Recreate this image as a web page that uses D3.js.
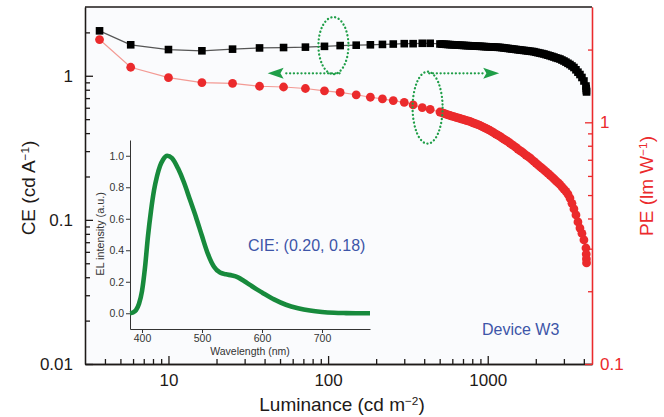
<!DOCTYPE html>
<html><head><meta charset="utf-8">
<script src="https://cdn.jsdelivr.net/npm/d3@7"></script>
<style>
body{margin:0;background:#fff}
svg{display:block}
text{font-family:"Liberation Sans",Arial,Helvetica,sans-serif}
</style>
</head><body>
<svg id="chart" width="664" height="417"></svg>
<script>
// ---------- data ----------
const luminance = [3.7, 5.8, 10, 16.2, 25.2, 37.2, 52.6, 72.1, 94.9, 119, 150, 184, 219, 256, 300, 341, 389, 436,
  502, 517, 532, 548, 564, 580, 597, 615, 633, 651,
  670, 690, 710, 731, 752, 774, 797, 820, 844, 869,
  894, 920, 947, 975, 1003, 1033, 1063, 1094, 1126, 1159,
  1193, 1228, 1264, 1301, 1339, 1378, 1418, 1460, 1502, 1546,
  1592, 1638, 1686, 1736, 1786, 1839, 1892, 1948, 2005, 2064,
  2124, 2186, 2250, 2316, 2384, 2454, 2525, 2599, 2675, 2754,
  2834, 2917, 3003, 3090, 3181, 3274, 3370, 3468, 3570, 3674,
  3782, 3892, 4006, 4124, 4140, 4150, 4160];
const ceValues = [2.05, 1.64, 1.52, 1.49, 1.53, 1.56, 1.57, 1.58, 1.60, 1.62, 1.63, 1.64, 1.65, 1.66, 1.67, 1.67, 1.68, 1.68,
  1.662, 1.658, 1.655, 1.652, 1.648, 1.645, 1.642, 1.639, 1.636, 1.632,
  1.629, 1.626, 1.623, 1.620, 1.618, 1.615, 1.612, 1.609, 1.606, 1.603,
  1.601, 1.598, 1.595, 1.592, 1.589, 1.587, 1.584, 1.581, 1.578, 1.576,
  1.573, 1.567, 1.560, 1.554, 1.548, 1.541, 1.535, 1.529, 1.523, 1.516,
  1.510, 1.504, 1.499, 1.493, 1.487, 1.480, 1.475, 1.469, 1.456, 1.446,
  1.436, 1.426, 1.416, 1.402, 1.389, 1.376, 1.362, 1.349, 1.332, 1.320,
  1.307, 1.286, 1.266, 1.244, 1.220, 1.197, 1.169, 1.141, 1.100, 1.059,
  1.020, 0.973, 0.920, 0.849, 0.816, 0.790, 0.772];
const peValues = [2.2, 1.69, 1.53, 1.46, 1.45, 1.41, 1.40, 1.38, 1.35, 1.33, 1.30, 1.27, 1.25, 1.23, 1.21, 1.18, 1.15, 1.13,
  1.103, 1.096, 1.089, 1.081, 1.074, 1.067, 1.061, 1.055, 1.049, 1.043,
  1.037, 1.031, 1.025, 1.019, 1.014, 1.008, 1.000, 0.993, 0.985, 0.978,
  0.970, 0.961, 0.952, 0.943, 0.934, 0.925, 0.915, 0.904, 0.894, 0.884,
  0.874, 0.863, 0.852, 0.842, 0.831, 0.821, 0.809, 0.798, 0.787, 0.775,
  0.764, 0.754, 0.743, 0.732, 0.722, 0.712, 0.700, 0.689, 0.678, 0.667,
  0.656, 0.646, 0.636, 0.625, 0.615, 0.605, 0.594, 0.584, 0.573, 0.563,
  0.553, 0.541, 0.529, 0.518, 0.504, 0.486, 0.462, 0.438, 0.414, 0.387,
  0.365, 0.347, 0.326, 0.302, 0.285, 0.272, 0.262];

const wavelength = [380, 385, 390, 395, 400, 405, 410, 415, 420, 425, 430, 435, 442, 450, 460, 470, 480, 490, 500, 510, 520,
  530, 540, 550, 560, 570, 580, 590, 600, 620, 640, 660, 680, 700, 720, 740, 760, 780];
const elIntensity = [0.0, 0.005, 0.02, 0.06, 0.14, 0.29, 0.49, 0.65, 0.78, 0.87, 0.935, 0.975, 1.0, 0.985, 0.92, 0.83, 0.72, 0.61, 0.49, 0.375, 0.295,
  0.258, 0.247, 0.24, 0.228, 0.205, 0.18, 0.155, 0.132, 0.088, 0.054, 0.032, 0.017, 0.008, 0.003, 0.001, 0.0, 0.0];

const xMajorTicks = [10, 100, 1000];
const ceMajorTicks = [0.01, 0.1, 1];
const peMajorTicks = [0.1, 1];
const insetXTicks = [400, 500, 600, 700];
const insetYTicks = [0, 0.2, 0.4, 0.6, 0.8, 1.0];

// annotation anchors in data units
const ellipseCE = {lum: 108, val: 1.62};
const ellipsePE = {lum: 420, val: 1.15};
const arrowCE = {from: 118, to: 41.8, val: 1.04};
const arrowPE = {from: 430, to: 1180, val: 1.04};

// ---------- layout ----------
const L = 85, R = 592, T = 7, B = 364;
const svg = d3.select("#chart");
const black = "#1e1a18", red = "#eb2a2c", blue = "#3d55a8", green = "#1f9e48";

const x = d3.scaleLog().domain([3, 4500]).range([L, R]);
const yCE = d3.scaleLog().domain([0.01, 3]).range([B, T]);
const yPE = d3.scaleLog().domain([0.1, 3]).range([B, T]);

svg.append("rect").attr("x", L).attr("y", T).attr("width", R - L).attr("height", B - T).attr("fill", "#fafbfd");

const isPow10 = v => Math.abs(Math.log10(v) - Math.round(Math.log10(v))) < 1e-9;

function styleAxis(g, color, fs) {
  g.selectAll("path,line").attr("stroke", color).attr("stroke-width", 1.3);
  g.selectAll("text").attr("fill", color).attr("font-size", fs).attr("font-family", '"Liberation Sans",Arial,sans-serif');
}

// bottom axis
const xMinor = x.ticks().filter(v => !isPow10(v) && v > 3.01);
svg.append("g").attr("transform", `translate(0,${B})`)
  .call(d3.axisBottom(x).tickValues(xMinor).tickSize(-5).tickSizeOuter(0).tickFormat(""))
  .call(g => styleAxis(g, black, 17));
svg.append("g").attr("transform", `translate(0,${B})`)
  .call(d3.axisBottom(x).tickValues(xMajorTicks).tickSize(-8).tickSizeOuter(0).tickPadding(10).tickFormat(d3.format("d")))
  .call(g => styleAxis(g, black, 17));

// left axis
const ceMinor = yCE.ticks().filter(v => !isPow10(v) && v < 2.99);
svg.append("g").attr("transform", `translate(${L},0)`)
  .call(d3.axisLeft(yCE).tickValues(ceMinor).tickSize(-5).tickSizeOuter(0).tickFormat(""))
  .call(g => styleAxis(g, black, 17));
svg.append("g").attr("transform", `translate(${L},0)`)
  .call(d3.axisLeft(yCE).tickValues(ceMajorTicks).tickSize(-8).tickSizeOuter(0).tickPadding(12).tickFormat(d => d >= 1 ? "1" : String(d)))
  .call(g => styleAxis(g, black, 17));

// top border
svg.append("line").attr("x1", L).attr("x2", R).attr("y1", T).attr("y2", T).attr("stroke", black).attr("stroke-width", 1.3);

// right axis (red)
const peMinor = yPE.ticks().filter(v => !isPow10(v) && v < 2.99);
svg.append("g").attr("transform", `translate(${R},0)`)
  .call(d3.axisRight(yPE).tickValues(peMinor).tickSize(-4).tickSizeOuter(0).tickFormat(""))
  .call(g => styleAxis(g, red, 17));
svg.append("g").attr("transform", `translate(${R},0)`)
  .call(d3.axisRight(yPE).tickValues(peMajorTicks).tickSize(-7).tickSizeOuter(0).tickPadding(8).tickFormat(d => d >= 1 ? "1" : String(d)))
  .call(g => styleAxis(g, red, 17));

// ---------- main series ----------
const pts = luminance.map((l, i) => ({l, ce: ceValues[i], pe: peValues[i]}));

svg.append("path").datum(pts)
  .attr("fill", "none").attr("stroke", "#f39a94").attr("stroke-width", 1.2)
  .attr("d", d3.line().x(d => x(d.l)).y(d => yPE(d.pe)));
svg.append("path").datum(pts)
  .attr("fill", "none").attr("stroke", "#555").attr("stroke-width", 1.2)
  .attr("d", d3.line().x(d => x(d.l)).y(d => yCE(d.ce)));

svg.append("g").selectAll("circle").data(pts).join("circle")
  .attr("cx", d => x(d.l)).attr("cy", d => yPE(d.pe)).attr("r", 4.4).attr("fill", red);

const sq = 7.6;
svg.append("g").selectAll("rect").data(pts).join("rect")
  .attr("x", d => x(d.l) - sq / 2).attr("y", d => yCE(d.ce) - sq / 2)
  .attr("width", sq).attr("height", sq).attr("fill", "#000");

// ---------- annotations ----------
const dotted = sel => sel.attr("fill", "none").attr("stroke", green).attr("stroke-width", 2.3)
  .attr("stroke-dasharray", "0.1,3.7").attr("stroke-linecap", "round");

svg.append("ellipse").attr("cx", x(ellipseCE.lum)).attr("cy", yCE(ellipseCE.val)).attr("rx", 15).attr("ry", 28.5).call(dotted);
svg.append("ellipse").attr("cx", x(ellipsePE.lum)).attr("cy", yPE(ellipsePE.val)).attr("rx", 15).attr("ry", 36).call(dotted);

function arrow(a) {
  const y = yCE(a.val), x0 = x(a.from), x1 = x(a.to);
  const dir = Math.sign(x1 - x0), head = 16;
  svg.append("line").attr("x1", x0).attr("x2", x1 - dir * head).attr("y1", y).attr("y2", y).call(dotted);
  svg.append("path").attr("fill", green)
    .attr("d", `M${x1},${y} L${x1 - dir * head},${y - 5.5} L${x1 - dir * head * 0.8},${y} L${x1 - dir * head},${y + 5.5} Z`);
}
arrow(arrowCE);
arrow(arrowPE);

// ---------- inset ----------
const ix = d3.scaleLinear().domain([380, 780]).range([130, 370]);
const iy = d3.scaleLinear().domain([-0.1, 1.1]).range([329, 140]);
const insetCol = "#333";
function styleInset(g) {
  g.selectAll("path,line").attr("stroke", insetCol).attr("stroke-width", 1);
  g.selectAll("text").attr("fill", insetCol).attr("font-size", 10.5).attr("font-family", '"Liberation Sans",Arial,sans-serif');
}
svg.append("g").attr("transform", "translate(0,329)")
  .call(d3.axisBottom(ix).tickValues(insetXTicks).tickSize(4).tickSizeOuter(0).tickPadding(2).tickFormat(d3.format("d")))
  .call(styleInset);
svg.append("g").attr("transform", "translate(130,0)")
  .call(d3.axisLeft(iy).tickValues(insetYTicks).tickSize(4).tickSizeOuter(0).tickPadding(2).tickFormat(d3.format(".1f")))
  .call(styleInset);

const spec = wavelength.map((w, i) => ({w, v: elIntensity[i]}));
svg.append("path").datum(spec)
  .attr("fill", "none").attr("stroke", "#178a3c").attr("stroke-width", 4.6).attr("stroke-linejoin", "round")
  .attr("d", d3.line().x(d => ix(d.w)).y(d => iy(d.v)).curve(d3.curveMonotoneX));

svg.append("text").attr("transform", "translate(104,234) rotate(-90)").attr("text-anchor", "middle")
  .attr("font-size", 10.8).attr("fill", insetCol).text("EL intensity (a.u.)");
svg.append("text").attr("x", 250).attr("y", 355).attr("text-anchor", "middle")
  .attr("font-size", 10.5).attr("fill", insetCol).text("Wavelength (nm)");

// ---------- texts ----------
svg.append("text").attr("x", 248).attr("y", 251).attr("font-size", 16).attr("fill", blue).text("CIE: (0.20, 0.18)");
svg.append("text").attr("x", 482).attr("y", 335).attr("font-size", 16).attr("fill", blue).text("Device W3");

function titleWithSup(sel, main, sup) {
  sel.append("tspan").text(main);
  sel.append("tspan").attr("font-size", "0.62em").attr("dy", "-0.55em").text(sup);
  sel.append("tspan").attr("dy", "0.34em").text(")");
}
svg.append("text").attr("transform", "translate(35,188) rotate(-90)").attr("text-anchor", "middle")
  .attr("font-size", 19).attr("fill", black).call(s => titleWithSup(s, "CE (cd A", "\u22121"));
svg.append("text").attr("transform", "translate(653,186) rotate(-90)").attr("text-anchor", "middle")
  .attr("font-size", 19).attr("fill", red).call(s => titleWithSup(s, "PE (lm W", "\u22121"));
svg.append("text").attr("x", 342).attr("y", 411).attr("text-anchor", "middle")
  .attr("font-size", 19).attr("fill", black).call(s => titleWithSup(s, "Luminance (cd m", "\u22122"));
</script>
</body></html>
